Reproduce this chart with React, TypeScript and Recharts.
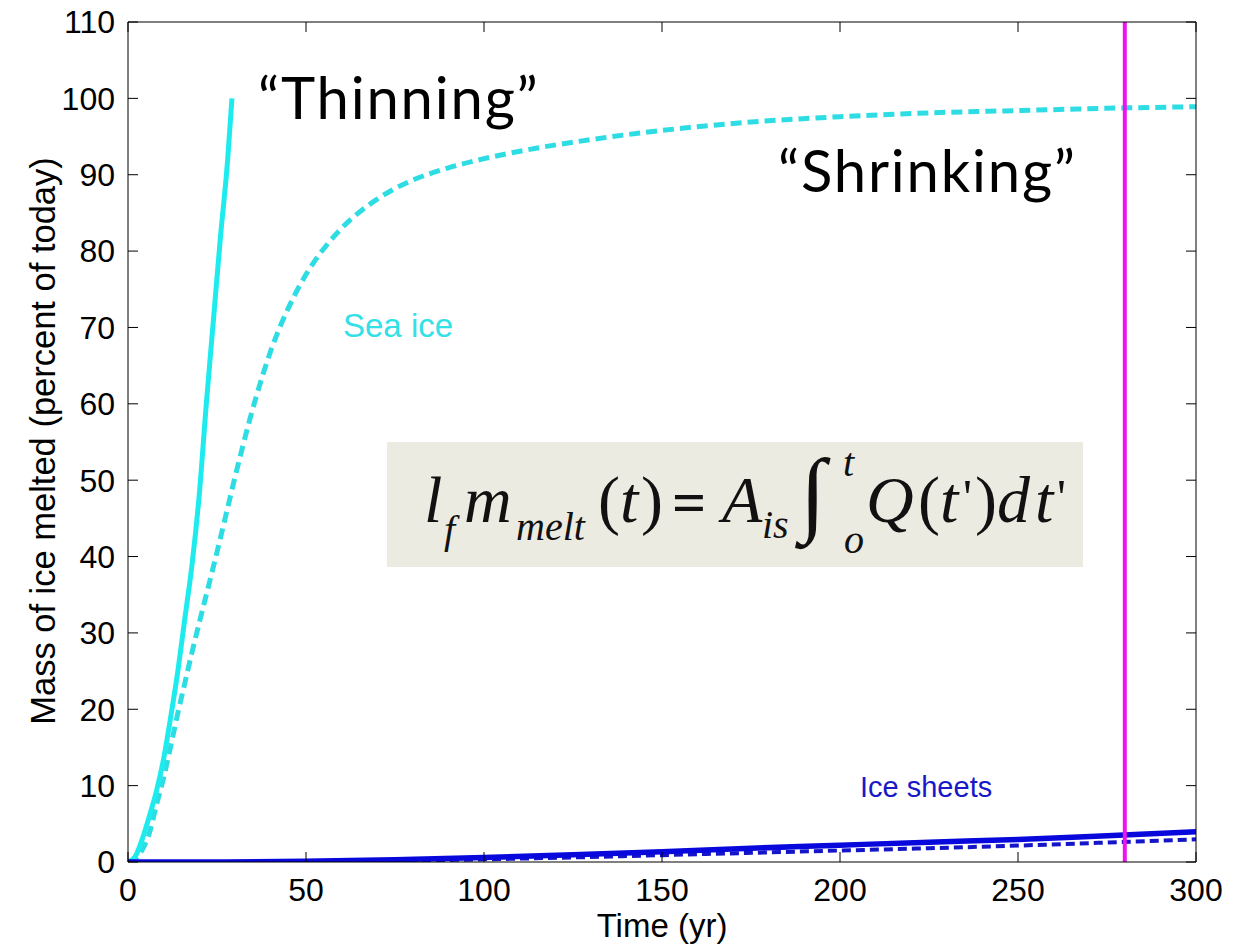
import React from "react";
import {
  LineChart,
  Line,
  XAxis,
  YAxis,
  ReferenceLine,
} from "recharts";

// sea ice, "thinning" (solid)
const thinT = [0, 2, 4, 6, 8, 10, 12, 14, 16, 18, 20, 22, 24, 26, 28, 29.2];
const thinV = [0, 0.7, 3, 6, 9.3, 13.5, 19, 25, 32, 39, 48, 60, 71, 82, 92, 100];

// sea ice, "shrinking" (dashed)
const shrinkT = [0, 2, 4, 6, 8, 10, 12, 14, 16, 18, 20, 22, 24, 26, 28, 30, 32, 34, 36, 38, 40, 42, 45, 48, 52, 56, 60, 65, 70, 75, 80, 90, 100, 115, 130, 150, 175, 200, 225, 250, 275, 300];
const shrinkV = [0, 0.4, 1.6, 3.8, 7.5, 11, 15.2, 19.5, 23.5, 27.5, 31.3, 35, 38.7, 42.5, 46.4, 50.3, 54, 57.6, 60.9, 64, 66.8, 69.3, 72.5, 75.3, 78.4, 80.9, 83, 85.1, 86.8, 88.2, 89.3, 90.9, 92.1, 93.5, 94.6, 95.8, 96.9, 97.6, 98.1, 98.4, 98.7, 98.9];

// ice sheets
const sheetT = [0, 25, 50, 75, 100, 125, 150, 175, 200, 225, 250, 275, 300];
const sheetSolidV = [0, 0, 0.1, 0.3, 0.6, 0.95, 1.35, 1.8, 2.2, 2.6, 2.95, 3.45, 3.95];
const sheetDashV = [0, 0, 0.05, 0.15, 0.35, 0.6, 0.9, 1.2, 1.5, 1.8, 2.15, 2.55, 2.97];

const xTicks = [0, 50, 100, 150, 200, 250, 300];
const yTicks = [0, 10, 20, 30, 40, 50, 60, 70, 80, 90, 100, 110];
const markerYear = 280;

const zip = (ts: number[], vs: number[]) => ts.map((t, i) => ({ t, v: vs[i] }));

const thinning = zip(thinT, thinV);
const shrinking = zip(shrinkT, shrinkV);
const sheetSolid = zip(sheetT, sheetSolidV);
const sheetDash = zip(sheetT, sheetDashV);

const FONT = "'Liberation Sans', Arial, sans-serif";
const SERIF = "'Liberation Serif', 'DejaVu Serif', serif";
const CAL = "Lato, 'Open Sans', sans-serif";
const tickStyle = { fill: "#000", fontSize: 32, fontFamily: FONT };
const blank = () => "";

const YLabel = () => (
  <text
    x={43}
    y={441}
    transform="rotate(-90 43 441)"
    textAnchor="middle"
    dominantBaseline="central"
    fontSize={34.5}
    fontFamily={FONT}
    fill="#000"
  >
    Mass of ice melted (percent of today)
  </text>
);

// pieces of the melt equation: [text, x, baseline, size, italic, bold]
const eq: [string, number, number, number, boolean, boolean][] = [
  ["l", 424, 522, 66, true, false],
  ["f", 444, 543, 40, true, false],
  ["m", 464, 522, 66, true, false],
  ["melt", 516, 540, 40, true, false],
  ["(", 598, 522, 66, false, false],
  ["t", 620, 522, 66, true, false],
  [")", 641, 522, 66, false, false],
  ["=", 672, 522, 60, false, true],
  ["A", 722, 522, 66, true, false],
  ["is", 762, 538, 40, true, false],
  ["∫", 800, 524, 94, false, false],
  ["t", 843, 476, 40, true, false],
  ["o", 844, 553, 40, true, false],
  ["Q", 866, 522, 66, true, false],
  ["(", 918, 522, 66, false, false],
  ["t", 940, 522, 66, true, false],
  ["'", 963, 514, 50, false, false],
  [")", 975, 522, 66, false, false],
  ["d", 997, 522, 66, true, false],
  ["t", 1035, 522, 66, true, false],
  ["'", 1057, 514, 50, false, false],
];

export default function App() {
  return (
    <div style={{ position: "absolute", left: 0, top: 0, width: 1239, height: 946, background: "#fff" }}>
      <LineChart
        width={1239}
        height={946}
        margin={{ top: 21, right: 42, left: 0, bottom: 0 }}
      >
        <XAxis
          dataKey="t"
          type="number"
          domain={[0, 300]}
          ticks={xTicks}
          allowDataOverflow
          height={84}
          tickSize={-10}
          tickMargin={26}
          tick={tickStyle}
          stroke="#000"
          label={{
            value: "Time (yr)",
            position: "insideBottom",
            offset: 9,
            fill: "#000",
            fontSize: 33,
            fontFamily: FONT,
          }}
        />
        <XAxis
          xAxisId="top"
          orientation="top"
          dataKey="t"
          type="number"
          domain={[0, 300]}
          ticks={xTicks}
          allowDataOverflow
          height={1}
          tickSize={-10}
          tickFormatter={blank}
          stroke="#000"
        />
        <YAxis
          type="number"
          domain={[0, 110]}
          ticks={yTicks}
          allowDataOverflow
          width={128}
          tickSize={-10}
          tickMargin={23}
          tick={tickStyle}
          stroke="#000"
          label={{ content: () => <YLabel /> }}
        />
        <YAxis
          yAxisId="right"
          orientation="right"
          type="number"
          domain={[0, 110]}
          ticks={yTicks}
          allowDataOverflow
          width={1}
          tickSize={-10}
          tickFormatter={blank}
          stroke="#000"
        />
        {/* invisible series so the top/right frame axes get drawn */}
        <Line
          data={shrinking}
          dataKey="v"
          xAxisId="top"
          yAxisId="right"
          stroke="none"
          dot={false}
          activeDot={false}
          isAnimationActive={false}
        />
        <Line
          data={shrinking}
          dataKey="v"
          type="monotone"
          stroke="#2EDDE3"
          strokeWidth={5}
          strokeDasharray="11 6"
          dot={false}
          isAnimationActive={false}
        />
        <Line
          data={thinning}
          dataKey="v"
          type="monotone"
          stroke="#1DEBEE"
          strokeWidth={5}
          dot={false}
          isAnimationActive={false}
        />
        <Line
          data={sheetDash}
          dataKey="v"
          type="monotone"
          stroke="#1414C8"
          strokeWidth={4}
          strokeDasharray="9 5"
          dot={false}
          isAnimationActive={false}
        />
        <Line
          data={sheetSolid}
          dataKey="v"
          type="monotone"
          stroke="#0808DC"
          strokeWidth={5.5}
          dot={false}
          isAnimationActive={false}
        />
        <ReferenceLine x={markerYear} stroke="#EE12EE" strokeWidth={4} />
      </LineChart>

      <div
        style={{
          position: "absolute",
          left: 387,
          top: 442,
          width: 696,
          height: 125,
          background: "#ECEBE1",
        }}
      />

      <svg
        width={1239}
        height={946}
        style={{ position: "absolute", left: 0, top: 0, pointerEvents: "none" }}
      >
        <text x={258} y={119} fontFamily={CAL} fontSize={58} letterSpacing={1.8} fill="#000">
          “Thinning”
        </text>
        <text x={778} y={192} fontFamily={CAL} fontSize={58} letterSpacing={1.8} fill="#000">
          “Shrinking”
        </text>
        <text x={343} y={337} fontFamily={FONT} fontSize={33} fill="#33E0E8">
          Sea ice
        </text>
        <text x={860} y={797} fontFamily={FONT} fontSize={29} fill="#1818C8">
          Ice sheets
        </text>
        <text fontFamily={SERIF} fill="#111">
          {eq.map(([s, x, y, size, it, b], i) => (
            <tspan
              key={i}
              x={x}
              y={y}
              fontSize={size}
              fontStyle={it ? "italic" : "normal"}
              fontWeight={b ? "bold" : "normal"}
            >
              {s}
            </tspan>
          ))}
        </text>
      </svg>
    </div>
  );
}
